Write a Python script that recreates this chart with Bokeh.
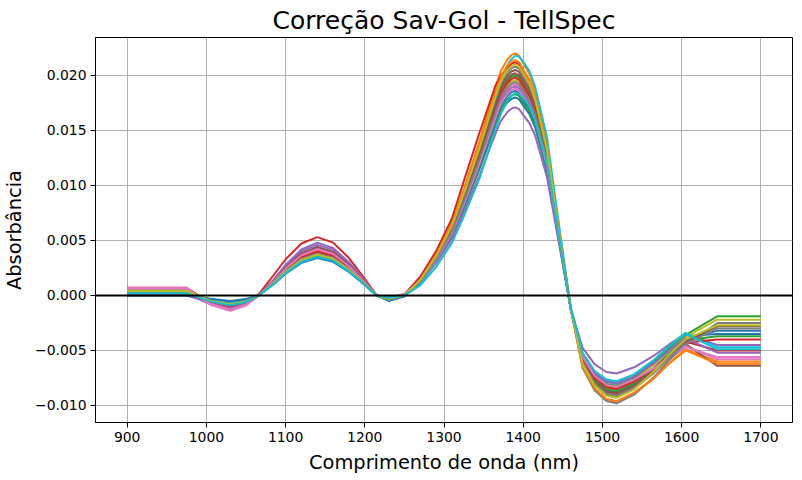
from bokeh.embed import file_html
from bokeh.models import FixedTicker, Range1d, Span
from bokeh.plotting import figure
from bokeh.resources import INLINE

# comprimentos de onda (nm) onde as curvas foram lidas
wl = [900, 975, 990, 1005, 1030, 1050, 1066, 1085, 1100, 1120,
      1140, 1160, 1180, 1200, 1215, 1230, 1250, 1270, 1290, 1310,
      1325, 1345, 1365, 1372, 1380, 1385, 1390, 1395, 1400, 1408,
      1415, 1430, 1445, 1460, 1475, 1490, 1505, 1518, 1540, 1565,
      1585, 1605, 1625, 1645, 1700]

# espectros corrigidos (Sav-Gol), um por amostra
s00 = [0.0001, 0.0001, -0.00011, -0.00036, -0.0006, -0.00039, 0.0, 0.00102, 0.00197, 0.00296,
       0.0034, 0.00306, 0.00214, 0.00095, 0.0, -0.0004, 0.0, 0.00121, 0.00306, 0.0054,
       0.00792, 0.01152, 0.01548, 0.01674, 0.01755, 0.01787, 0.018, 0.01782, 0.01728, 0.01647,
       0.0153, 0.01134, 0.00504, -0.0012, -0.00536, -0.00704, -0.00784, -0.008, -0.00736, -0.00607,
       -0.00478, -0.0037, -0.0036, -0.0035, -0.0035]
s01 = [0.0004, 0.0004, -0.00014, -0.00072, -0.0012, -0.00078, 0.0, 0.0012, 0.00232, 0.00348,
       0.004, 0.0036, 0.00252, 0.00112, 0.0, -0.0003, 0.0, 0.00147, 0.00374, 0.0066,
       0.00968, 0.01408, 0.01892, 0.02046, 0.02145, 0.02185, 0.022, 0.02178, 0.02112, 0.02013,
       0.0187, 0.01386, 0.00616, -0.0012, -0.0065, -0.00854, -0.00951, -0.0097, -0.00892, -0.00754,
       -0.0061, -0.0049, -0.00545, -0.006, -0.006]
s02 = [0.0006, 0.0006, -0.00001, -0.0006, -0.001, -0.00065, 0.0, 0.00114, 0.0022, 0.00331,
       0.0038, 0.00342, 0.00239, 0.00106, 0.0, -0.0002, 0.0001, 0.00123, 0.00311, 0.00549,
       0.00805, 0.01171, 0.01574, 0.01702, 0.01784, 0.01817, 0.0183, 0.01812, 0.01757, 0.01674,
       0.01556, 0.01153, 0.00512, -0.0012, -0.00549, -0.00722, -0.00804, -0.0082, -0.00754, -0.00613,
       -0.00475, -0.0036, -0.00275, -0.0019, -0.0019]
s03 = [0.0007, 0.0007, 0.0, -0.00066, -0.0011, -0.00072, 0.0001, 0.00186, 0.00329, 0.00472,
       0.0053, 0.0048, 0.0034, 0.0015, 0.0, -0.0003, 0.0001, 0.0017, 0.00403, 0.007,
       0.01039, 0.01484, 0.01908, 0.02003, 0.02067, 0.02105, 0.0212, 0.02099, 0.02035, 0.0194,
       0.01802, 0.01336, 0.00594, -0.0012, -0.00603, -0.00792, -0.00882, -0.009, -0.00828, -0.00684,
       -0.0054, -0.0042, -0.0046, -0.005, -0.005]
s04 = [0.0, 0.0, -0.00033, -0.00078, -0.0013, -0.00085, 0.0, 0.00144, 0.00278, 0.00418,
       0.0048, 0.00432, 0.00302, 0.00134, 0.0, -0.0002, 0.0, 0.00115, 0.00291, 0.00513,
       0.00752, 0.01094, 0.01471, 0.0159, 0.01667, 0.01698, 0.0171, 0.01693, 0.01642, 0.01565,
       0.01454, 0.01077, 0.00479, -0.0012, -0.00476, -0.00625, -0.00696, -0.0071, -0.00653, -0.00548,
       -0.00441, -0.0035, -0.004, -0.0045, -0.0045]
s05 = [0.0003, 0.0003, -0.0001, -0.00054, -0.0009, -0.00059, 0.0, 0.00126, 0.00244, 0.00365,
       0.0042, 0.00378, 0.00265, 0.00118, 0.0, -0.0003, 0.0, 0.00137, 0.00349, 0.00615,
       0.00902, 0.01312, 0.01763, 0.01907, 0.01999, 0.02036, 0.0205, 0.0203, 0.01968, 0.01876,
       0.01743, 0.01292, 0.00574, -0.0012, -0.00616, -0.0081, -0.00902, -0.0092, -0.00846, -0.00704,
       -0.0056, -0.0044, -0.0054, -0.0064, -0.0064]
s06 = [0.0007, 0.0007, -0.00007, -0.00084, -0.0014, -0.00091, 0.0, 0.00129, 0.00249, 0.00374,
       0.0043, 0.00387, 0.00271, 0.0012, 0.0, -0.0002, 0.0001, 0.00129, 0.00326, 0.00576,
       0.00845, 0.01229, 0.01651, 0.01786, 0.01872, 0.01907, 0.0192, 0.01901, 0.01843, 0.01757,
       0.01632, 0.0121, 0.00538, -0.0012, -0.00576, -0.00757, -0.00843, -0.0086, -0.00791, -0.00685,
       -0.00568, -0.0047, -0.00515, -0.0056, -0.0056]
s07 = [0.0002, 0.0002, -0.00012, -0.00048, -0.0008, -0.00052, 0.0, 0.00117, 0.00226, 0.00339,
       0.0039, 0.00351, 0.00246, 0.00109, 0.0, -0.0004, 0.0, 0.00139, 0.00354, 0.00624,
       0.00915, 0.01331, 0.01789, 0.01934, 0.02028, 0.02065, 0.0208, 0.02059, 0.01997, 0.01903,
       0.01768, 0.0131, 0.00582, -0.0012, -0.00657, -0.00862, -0.0096, -0.0098, -0.00902, -0.00742,
       -0.00583, -0.0045, -0.0035, -0.0025, -0.0025]
s08 = [0.0005, 0.0005, -0.00005, -0.0006, -0.001, -0.00065, 0.0, 0.00108, 0.00209, 0.00313,
       0.0036, 0.00324, 0.00227, 0.00101, 0.0, -0.0003, 0.0, 0.00131, 0.00333, 0.00588,
       0.00862, 0.01254, 0.01686, 0.01823, 0.01911, 0.01946, 0.0196, 0.0194, 0.01882, 0.01793,
       0.01666, 0.01235, 0.00549, -0.0012, -0.00563, -0.00739, -0.00823, -0.0084, -0.00773, -0.00633,
       -0.00495, -0.0038, -0.003, -0.0022, -0.0022]
s09 = [0.0003, 0.0003, -0.00006, -0.00042, -0.0007, -0.00046, 0.0, 0.00108, 0.00209, 0.00313,
       0.0036, 0.00324, 0.00227, 0.00101, 0.0, -0.0002, 0.0, 0.00109, 0.00305, 0.00567,
       0.0085, 0.01264, 0.01788, 0.01962, 0.02093, 0.02147, 0.0218, 0.02169, 0.02126, 0.02038,
       0.01897, 0.01439, 0.00654, -0.0011, -0.00529, -0.00695, -0.00774, -0.0079, -0.00727, -0.00588,
       -0.00453, -0.0034, -0.00405, -0.0047, -0.0047]
s10 = [0.0, 0.0, -0.00013, -0.0003, -0.0005, -0.00033, 0.0, 0.00105, 0.00203, 0.00305,
       0.0035, 0.00315, 0.00221, 0.00098, 0.0, -0.0005, -0.0001, 0.00125, 0.00316, 0.00558,
       0.00818, 0.0119, 0.016, 0.0173, 0.01814, 0.01847, 0.0186, 0.01841, 0.01786, 0.01702,
       0.01581, 0.01172, 0.00521, -0.0012, -0.0059, -0.00774, -0.00862, -0.0088, -0.0081, -0.00664,
       -0.0052, -0.004, -0.0036, -0.0032, -0.0032]
s11 = [0.0002, 0.0002, -0.0002, -0.00066, -0.0011, -0.00072, 0.0, 0.00123, 0.00238, 0.00357,
       0.0041, 0.00369, 0.00258, 0.00115, 0.0, -0.0003, 0.0, 0.00143, 0.00364, 0.00642,
       0.00942, 0.0137, 0.0184, 0.0199, 0.02087, 0.02125, 0.0214, 0.02119, 0.02054, 0.01958,
       0.01819, 0.01348, 0.00599, -0.0012, -0.00643, -0.00845, -0.00941, -0.0096, -0.00883, -0.00753,
       -0.00615, -0.005, -0.0056, -0.0062, -0.0062]
s12 = [0.0005, 0.0005, -0.00003, -0.00054, -0.0009, -0.00059, 0.0, 0.00111, 0.00215, 0.00322,
       0.0037, 0.00333, 0.00233, 0.00104, 0.0, -0.0002, 0.0, 0.00134, 0.0034, 0.006,
       0.0088, 0.0128, 0.0172, 0.0186, 0.0195, 0.01986, 0.02, 0.0198, 0.0192, 0.0183,
       0.017, 0.0126, 0.0056, -0.0012, -0.00583, -0.00766, -0.00853, -0.0087, -0.008, -0.00664,
       -0.00526, -0.0041, -0.0039, -0.0037, -0.0037]
s13 = [0.0004, 0.0004, -0.00009, -0.0006, -0.001, -0.00065, 0.0, 0.0012, 0.00232, 0.00348,
       0.004, 0.0036, 0.00252, 0.00112, 0.0, -0.0003, 0.0, 0.00133, 0.00337, 0.00594,
       0.00871, 0.01267, 0.01703, 0.01841, 0.01931, 0.01966, 0.0198, 0.0196, 0.01901, 0.01812,
       0.01683, 0.01247, 0.00554, -0.0012, -0.0057, -0.00748, -0.00833, -0.0085, -0.00782, -0.00662,
       -0.00536, -0.0043, -0.00415, -0.004, -0.004]
s14 = [0.0001, 0.0001, -0.00026, -0.00072, -0.0012, -0.00078, 0.0, 0.00138, 0.00267, 0.004,
       0.0046, 0.00414, 0.0029, 0.00129, 0.0, -0.0002, 0.0, 0.00127, 0.00323, 0.0057,
       0.00836, 0.01216, 0.01634, 0.01767, 0.01853, 0.01887, 0.019, 0.01881, 0.01824, 0.01739,
       0.01615, 0.01197, 0.00532, -0.0012, -0.00536, -0.00704, -0.00784, -0.008, -0.00736, -0.00616,
       -0.00493, -0.0039, -0.00455, -0.0052, -0.0052]
s15 = [0.0002, 0.0002, -0.00012, -0.00048, -0.0008, -0.00052, 0.0, 0.00132, 0.00255, 0.00383,
       0.0044, 0.00396, 0.00277, 0.00123, 0.0, -0.0003, 0.0, 0.00135, 0.00343, 0.00606,
       0.00889, 0.01293, 0.01737, 0.01879, 0.0197, 0.02006, 0.0202, 0.02, 0.01939, 0.01848,
       0.01717, 0.01273, 0.00566, -0.0012, -0.00596, -0.00783, -0.00872, -0.0089, -0.00819, -0.00679,
       -0.00538, -0.0042, -0.0035, -0.0028, -0.0028]
s16 = [0.0006, 0.0006, -0.00009, -0.00078, -0.0013, -0.00085, 0.0, 0.00126, 0.00244, 0.00365,
       0.0042, 0.00378, 0.00265, 0.00118, 0.0, -0.0002, 0.0001, 0.00126, 0.0032, 0.00564,
       0.00827, 0.01203, 0.01617, 0.01748, 0.01833, 0.01867, 0.0188, 0.01861, 0.01805, 0.0172,
       0.01598, 0.01184, 0.00526, -0.0012, -0.00556, -0.0073, -0.00813, -0.0083, -0.00764, -0.00664,
       -0.00553, -0.0046, -0.0052, -0.0058, -0.0058]
s17 = [0.0003, 0.0003, -0.0001, -0.00054, -0.0009, -0.00059, 0.0, 0.00114, 0.0022, 0.00331,
       0.0038, 0.00342, 0.00239, 0.00106, 0.0, -0.0004, 0.0, 0.0013, 0.0033, 0.00582,
       0.00854, 0.01242, 0.01668, 0.01804, 0.01892, 0.01926, 0.0194, 0.01921, 0.01862, 0.01775,
       0.01649, 0.01222, 0.00543, -0.0012, -0.0061, -0.00801, -0.00892, -0.0091, -0.00837, -0.00699,
       -0.00558, -0.0044, -0.0037, -0.003, -0.003]
s18 = [0.0004, 0.0004, -0.00004, -0.00048, -0.0008, -0.00052, 0.0, 0.00111, 0.00215, 0.00322,
       0.0037, 0.00333, 0.00233, 0.00104, 0.0, -0.0003, 0.0, 0.00141, 0.00357, 0.0063,
       0.00924, 0.01344, 0.01806, 0.01953, 0.02048, 0.02085, 0.021, 0.02079, 0.02016, 0.01922,
       0.01785, 0.01323, 0.00588, -0.0012, -0.00623, -0.00818, -0.00911, -0.0093, -0.00856, -0.00692,
       -0.00533, -0.004, -0.00335, -0.0027, -0.0027]
s19 = [0.0002, 0.0002, -0.00015, -0.00054, -0.0009, -0.00059, 0.0, 0.00105, 0.00203, 0.00305,
       0.0035, 0.00315, 0.00221, 0.00098, 0.0, -0.0002, 0.0, 0.00092, 0.00258, 0.00478,
       0.00718, 0.01067, 0.01509, 0.01656, 0.01766, 0.01812, 0.0184, 0.01831, 0.01794, 0.0172,
       0.01601, 0.01214, 0.00552, -0.0011, -0.00523, -0.00686, -0.00764, -0.0078, -0.00718, -0.00587,
       -0.00458, -0.0035, -0.0042, -0.0049, -0.0049]

spectra = [s00, s01, s02, s03, s04, s05, s06, s07, s08, s09,
           s10, s11, s12, s13, s14, s15, s16, s17, s18, s19]

# ciclo de cores padrao
colors = ["#1f77b4", "#ff7f0e", "#2ca02c", "#d62728", "#9467bd",
          "#8c564b", "#e377c2", "#7f7f7f", "#bcbd22", "#17becf"]

x_ticks = [900, 1000, 1100, 1200, 1300, 1400, 1500, 1600, 1700]
y_ticks = [-0.010, -0.005, 0.0, 0.005, 0.010, 0.015, 0.020]
y_tick_labels = ["\u22120.010", "\u22120.005", "0.000", "0.005", "0.010", "0.015", "0.020"]

p = figure(frame_width=697, frame_height=385, output_backend="svg", toolbar_location=None,
           x_range=Range1d(860, 1740), y_range=Range1d(-0.01155, 0.02345),
           min_border_left=88, min_border_right=1, min_border_top=31, min_border_bottom=50,
           title="Correção Sav-Gol - TellSpec")

for i, s in enumerate(spectra):
    p.line(wl, s, line_color=colors[i % 10], line_width=2)

p.add_layout(Span(location=0, dimension="width", line_color="black", line_width=2))

# titulo
p.title.align = "center"
p.title.text_color = "black"
p.title.text_font = "DejaVu Sans"
p.title.text_font_size = "25px"
p.title.text_font_style = "normal"
p.title.standoff = 6

# eixos
p.xaxis.axis_label = "Comprimento de onda (nm)"
p.yaxis.axis_label = "Absorbância"
p.xaxis.ticker = FixedTicker(ticks=x_ticks)
p.yaxis.ticker = FixedTicker(ticks=y_ticks)
p.yaxis.major_label_overrides = dict(zip(y_ticks, y_tick_labels))
for ax in [p.xaxis, p.yaxis]:
    ax.axis_label_text_color = "black"
    ax.axis_label_text_font = "DejaVu Sans"
    ax.axis_label_text_font_size = "19.4px"
    ax.axis_label_text_font_style = "normal"
    ax.major_label_text_font = "DejaVu Sans"
    ax.major_label_text_font_size = "13.9px"
    ax.major_label_text_color = "black"
    ax.major_tick_out = 5
    ax.major_tick_in = 0
    ax.minor_tick_out = 0
    ax.minor_tick_in = 0
    ax.axis_line_color = "black"
    ax.major_tick_line_color = "black"
    ax.major_label_standoff = 4
    ax.axis_label_standoff = 6

p.xgrid.ticker = FixedTicker(ticks=x_ticks)
p.ygrid.ticker = FixedTicker(ticks=y_ticks)
p.grid.grid_line_color = "#b0b0b0"
p.grid.grid_line_width = 1
p.outline_line_color = "black"
p.outline_line_width = 1
p.outline_line_alpha = 1

open("out.html", "w").write(file_html(p, INLINE))
